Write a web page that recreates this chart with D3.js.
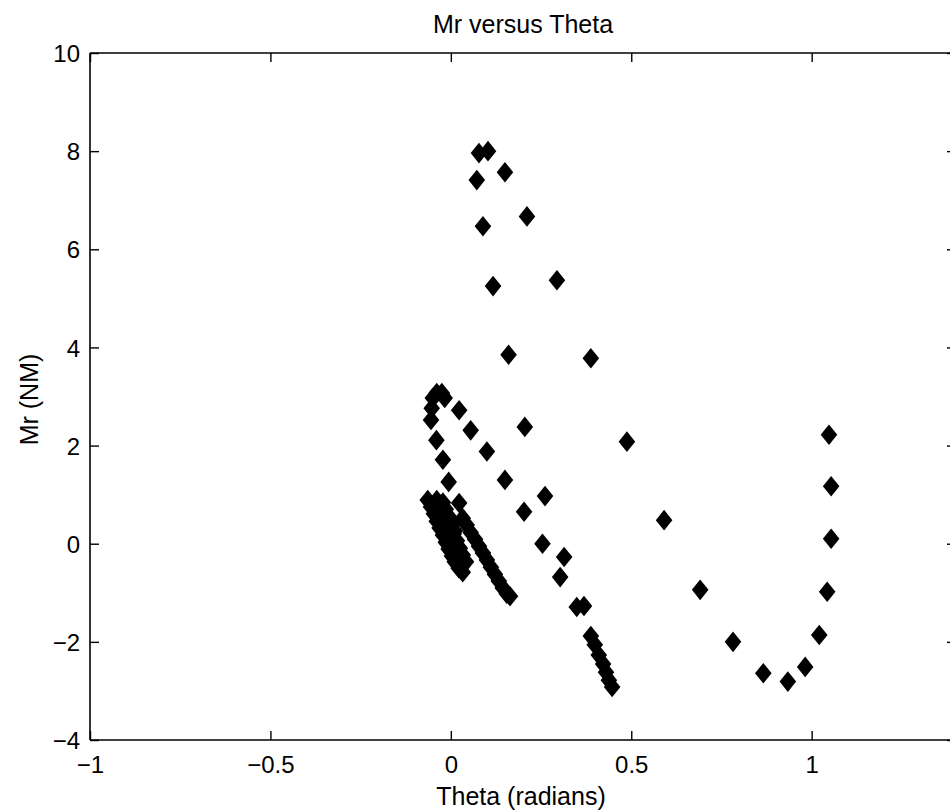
<!DOCTYPE html>
<html>
<head>
<meta charset="utf-8">
<script src="https://cdn.jsdelivr.net/npm/d3@7"></script>
<style>
  html, body { margin: 0; padding: 0; background: #fff; overflow: hidden; }
  svg { display: block; font-family: "Liberation Sans", Arial, Helvetica, sans-serif; }
  .frame line { stroke: #000; stroke-width: 1.6; }
  .tick-mark { stroke: #000; stroke-width: 1.4; }
  .marker { fill: #000; }
</style>
</head>
<body>
<svg id="chart" width="950" height="810"></svg>
<script>
// theta (radians) and Mr (NM)
const theta = [
  // upper loop
  0.078, 0.103, 0.150, 0.072, 0.211, 0.089, 0.294, 0.117, 0.160, 0.388,
  0.205, 0.488, 0.591, 0.691, 0.782, 0.866, 0.934, 0.982, 1.021, 1.043,
  1.054, 1.054, 1.048,
  // middle chain
  0.150, 0.100, 0.055, 0.023, 0.261, 0.203, 0.254, 0.023, 0.314, 0.303,
  0.349, 0.369, 0.388, 0.399, 0.410, 0.422, 0.430, 0.438, 0.447,
  // hook and left column
  -0.053, -0.050, -0.039, -0.025, -0.017, -0.055, -0.040, -0.022, -0.006,
  // left dense band
  -0.064, -0.055, -0.047, -0.039, -0.031, -0.022, -0.014, -0.006, 0.003, 0.011,
  0.022, 0.033,
  -0.039, -0.028, -0.017, -0.008, 0.000, 0.008, 0.017, 0.025, 0.033, 0.042,
  -0.022, -0.014, -0.005, 0.003, 0.011,
  // second dense band
  0.033, 0.044, 0.055, 0.067, 0.078, 0.089, 0.100, 0.111, 0.122, 0.133,
  0.144, 0.155, 0.164
];

const mr = [
  // upper loop
  7.96, 8.00, 7.57, 7.41, 6.67, 6.47, 5.37, 5.25, 3.85, 3.78,
  2.38, 2.08, 0.48, -0.94, -2.00, -2.64, -2.81, -2.51, -1.86, -0.98,
  0.10, 1.17, 2.22,
  // middle chain
  1.30, 1.88, 2.31, 2.72, 0.97, 0.65, 0.00, 0.83, -0.27, -0.68,
  -1.29, -1.27, -1.88, -2.06, -2.27, -2.45, -2.62, -2.78, -2.92,
  // hook and left column
  2.76, 2.97, 3.07, 3.07, 2.97, 2.52, 2.11, 1.71, 1.26,
  // left dense band
  0.89, 0.75, 0.61, 0.46, 0.32, 0.18, 0.03, -0.11, -0.25, -0.37,
  -0.50, -0.58,
  0.89, 0.77, 0.63, 0.48, 0.34, 0.20, 0.06, -0.09, -0.23, -0.37,
  0.84, 0.70, 0.55, 0.40, 0.26,
  // second dense band
  0.52, 0.38, 0.23, 0.09, -0.05, -0.19, -0.33, -0.48, -0.62, -0.76,
  -0.90, -1.02, -1.07
];

const xTicks = [-1, -0.5, 0, 0.5, 1];
const yTicks = [-4, -2, 0, 2, 4, 6, 8, 10];
const xDomain = [-1, 1.4];
const yDomain = [-4, 10];

const titleText = "Mr versus Theta";
const xLabelText = "Theta (radians)";
const yLabelText = "Mr (NM)";

const svg = d3.select("#chart");

// right edge of the box lies just past the picture, only its ticks show
const plot = { left: 90, right: 956, top: 53, bottom: 740 };
const tickLen = 9;

const x = d3.scaleLinear().domain(xDomain).range([plot.left, plot.right]);
const y = d3.scaleLinear().domain(yDomain).range([plot.bottom, plot.top]);

// box (left, top, bottom)
const frame = svg.append("g").attr("class", "frame");
frame.append("line").attr("x1", plot.left).attr("x2", plot.right).attr("y1", plot.top).attr("y2", plot.top);
frame.append("line").attr("x1", plot.left).attr("x2", plot.right).attr("y1", plot.bottom).attr("y2", plot.bottom);
frame.append("line").attr("x1", plot.left).attr("x2", plot.left).attr("y1", plot.top).attr("y2", plot.bottom);

// inward ticks on all four sides, drawn with d3 axes
const xBottom = svg.append("g")
  .attr("transform", `translate(0,${plot.bottom})`)
  .call(d3.axisBottom(x).tickValues(xTicks).tickSizeInner(-tickLen).tickSizeOuter(0).tickPadding(20)
    .tickFormat(d3.format("")));
const xTop = svg.append("g")
  .attr("transform", `translate(0,${plot.top})`)
  .call(d3.axisTop(x).tickValues(xTicks).tickSizeInner(-tickLen).tickSizeOuter(0).tickFormat(""));
const yLeft = svg.append("g")
  .attr("transform", `translate(${plot.left},0)`)
  .call(d3.axisLeft(y).tickValues(yTicks).tickSizeInner(-tickLen).tickSizeOuter(0).tickPadding(10)
    .tickFormat(d3.format("")));
const yRight = svg.append("g")
  .attr("transform", `translate(${plot.right},0)`)
  .call(d3.axisRight(y).tickValues(yTicks).tickSizeInner(-tickLen).tickSizeOuter(0).tickFormat(""));

[xBottom, xTop, yLeft, yRight].forEach((g) => {
  g.select(".domain").remove();
  g.selectAll(".tick line").attr("class", "tick-mark");
  g.selectAll(".tick text")
    .attr("fill", "#000")
    .style("font-size", "24px")
    .style("font-family", "'Liberation Sans', Arial, Helvetica, sans-serif");
});
xBottom.selectAll(".tick text").attr("dy", "0.55em");
yLeft.selectAll(".tick text").attr("dy", "0.36em");

// markers
const diamond = "M0,-10.3L8.3,0L0,10.3L-8.3,0Z";
svg.append("g")
  .selectAll("path")
  .data(d3.range(theta.length))
  .join("path")
  .attr("class", "marker")
  .attr("d", diamond)
  .attr("transform", (i) => `translate(${x(theta[i])},${y(mr[i])})`);

// labels
const midX = (plot.left + plot.right) / 2;
svg.append("text")
  .attr("x", midX).attr("y", 33)
  .attr("text-anchor", "middle")
  .style("font-size", "25px")
  .text(titleText);

svg.append("text")
  .attr("x", midX - 2).attr("y", 805)
  .attr("text-anchor", "middle")
  .style("font-size", "25px")
  .text(xLabelText);

svg.append("text")
  .attr("transform", `translate(38,${(plot.top + plot.bottom) / 2 + 3}) rotate(-90)`)
  .attr("text-anchor", "middle")
  .style("font-size", "25px")
  .text(yLabelText);
</script>
</body>
</html>
